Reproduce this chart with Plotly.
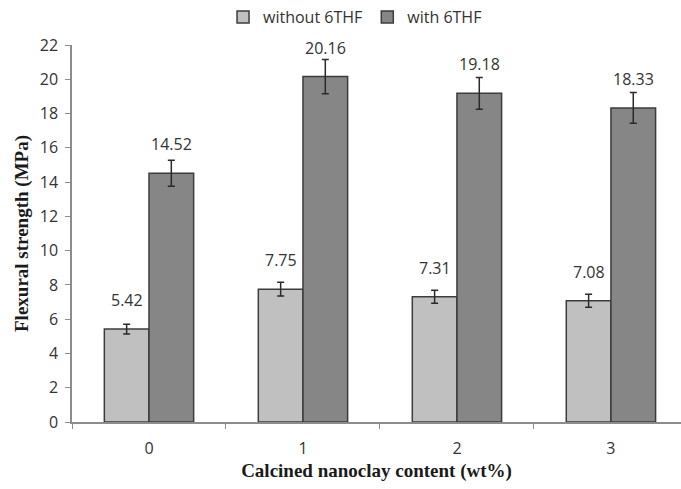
import plotly.graph_objects as go

# Flexural strength of the samples vs. calcined nanoclay content
categories = ["0", "1", "2", "3"]
without_6thf = [5.42, 7.75, 7.31, 7.08]
without_6thf_err = [0.28, 0.40, 0.38, 0.38]
with_6thf = [14.52, 20.16, 19.18, 18.33]
with_6thf_err = [0.76, 1.00, 0.93, 0.90]
y_ticks = list(range(0, 23, 2))

LIGHT = "#c0c0c0"
DARK = "#868686"
EDGE = "#3c3c3c"
SANS = "Open Sans, Calibri, sans-serif"
SERIF = "Liberation Serif, Times New Roman, serif"

fig = go.Figure()
fig.add_trace(go.Bar(
    name="without 6THF", x=categories, y=without_6thf,
    marker=dict(color=LIGHT, line=dict(color=EDGE, width=1.5)),
    error_y=dict(type="data", array=without_6thf_err, color="#2a2a2a",
                 thickness=1.5, width=3.5),
))
fig.add_trace(go.Bar(
    name="with 6THF", x=categories, y=with_6thf,
    marker=dict(color=DARK, line=dict(color=EDGE, width=1.5)),
    error_y=dict(type="data", array=with_6thf_err, color="#2a2a2a",
                 thickness=1.5, width=3.5),
))

# value labels above each bar
for i, (a, b) in enumerate(zip(without_6thf, with_6thf)):
    for val, off in ((a, -0.145), (b, 0.145)):
        fig.add_annotation(
            x=i + off, y=val, xref="x", yref="y", text=f"{val:.2f}",
            showarrow=False, yshift=29, font=dict(family=SANS, size=16, color="#333333"),
        )

fig.update_layout(
    width=681, height=489,
    margin=dict(l=72, r=0, t=45, b=67),
    plot_bgcolor="white", paper_bgcolor="white",
    barmode="group", bargap=0.42, bargroupgap=0,
    showlegend=True,
    legend=dict(orientation="h", x=0.248, y=1.0, xref="paper", yref="container",
                xanchor="left", yanchor="top",
                font=dict(family=SANS, size=16, color="#333333"),
                itemwidth=30, tracegroupgap=0, bgcolor="rgba(0,0,0,0)"),
    font=dict(family=SANS, size=16, color="#333333"),
)
fig.update_xaxes(
    type="category", range=[-0.5, 3.455], tickson="boundaries",
    showline=True, linecolor="#8c8c8c", linewidth=1.5,
    ticks="outside", ticklen=5, tickcolor="#8c8c8c",
    showgrid=False, zeroline=False,
    tickfont=dict(family=SANS, size=16, color="#333333"),
    ticklabelstandoff=11,
    title=dict(text="<b>Calcined nanoclay content (wt%)</b>",
               font=dict(family=SERIF, size=19, color="#1a1a1a"), standoff=6),
)
fig.update_yaxes(
    range=[0, 22], tickvals=y_ticks,
    showline=True, linecolor="#8c8c8c", linewidth=1.5,
    ticks="outside", ticklen=5, tickcolor="#8c8c8c",
    showgrid=False, zeroline=False,
    tickfont=dict(family=SANS, size=16, color="#333333"),
    ticklabelstandoff=4,
    title=dict(text="<b>Flexural strength (MPa)</b>",
               font=dict(family=SERIF, size=19, color="#1a1a1a"), standoff=6),
)

fig.write_html("out.html")
